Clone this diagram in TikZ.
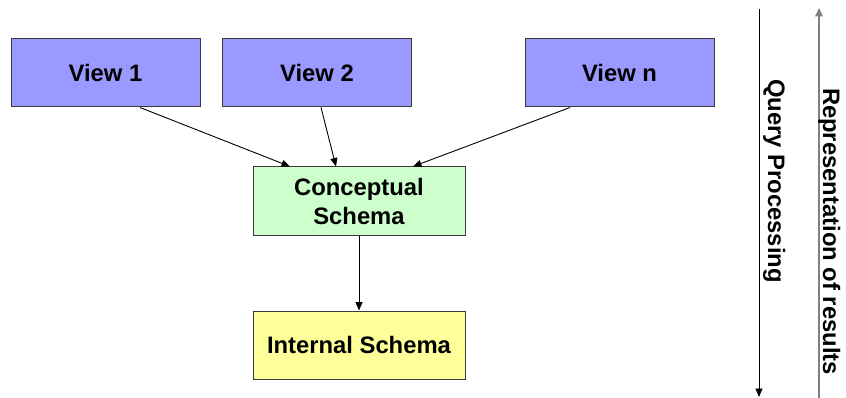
\documentclass[tikz,border=0pt]{standalone}
\usepackage{fontspec}
\setmainfont{Liberation Sans}
\usetikzlibrary{arrows.meta,calc}
\definecolor{viewblue}{HTML}{9999FF}
\definecolor{concgreen}{HTML}{CCFFCC}
\definecolor{intyellow}{HTML}{FFFF99}
\definecolor{boxedge}{HTML}{3A3A3A}
\definecolor{upgray}{HTML}{808080}
\tikzset{
  schemabox/.style={draw=boxedge, line width=1pt, rectangle, align=center,
    inner sep=0pt, font=\fontsize{23.8}{29.5}\selectfont\bfseries},
  viewbox/.style={schemabox, fill=viewblue, minimum width=189pt, minimum height=68pt},
  concbox/.style={schemabox, fill=concgreen, minimum width=212pt, minimum height=69pt},
  intbox/.style={schemabox, fill=intyellow, minimum width=212pt, minimum height=68pt},
  flow/.style={draw=black, line width=0.9pt, -{Triangle[length=8.5pt,width=7pt]}},
  sidelabel/.style={rotate=-90, anchor=base, inner sep=0pt,
    font=\fontsize{23.8}{29}\selectfont\bfseries}
}
\begin{document}
\begin{tikzpicture}[x=1pt, y=-1pt]
\useasboundingbox (0,0) rectangle (846,398);

% external views
\node[viewbox] (v1) at (105.5,73) {View 1};
\node[viewbox] (v2) at (317,73)   {View 2};
\node[viewbox] (vn) at (619.5,73) {View n};

% conceptual and internal levels
\node[concbox] (cs) at (359,201.5) {Conceptual\\Schema};
\node[intbox]  (is) at (359,345)   {Internal Schema};

% mappings between levels
\draw[flow] ($(v1.south)+(34.5,0)$) -- ($(cs.north)+(-69,0)$);
\draw[flow] ($(v2.south)+(4,0)$)    -- ($(cs.north)+(-23,0)$);
\draw[flow] ($(vn.south)+(-49.5,0)$) -- ($(cs.north)+(54,0)$);
\draw[flow] (cs.south) -- (is.north);

% direction of processing
\coordinate (qtop) at (759,9);
\coordinate (qbot) at (759,397);
\draw[flow] (qtop) -- (qbot);
\node[sidelabel] (qlab) at (768,181) {Query Processing};

\coordinate (rbot) at (819,398);
\coordinate (rtop) at (819,8);
\draw[draw=upgray, line width=1.8pt, -{Triangle[length=8.5pt,width=7.5pt]}] (rbot) -- (rtop);
\node[sidelabel] (rlab) at (823,231.5) {Representation of results};
\end{tikzpicture}
\end{document}
